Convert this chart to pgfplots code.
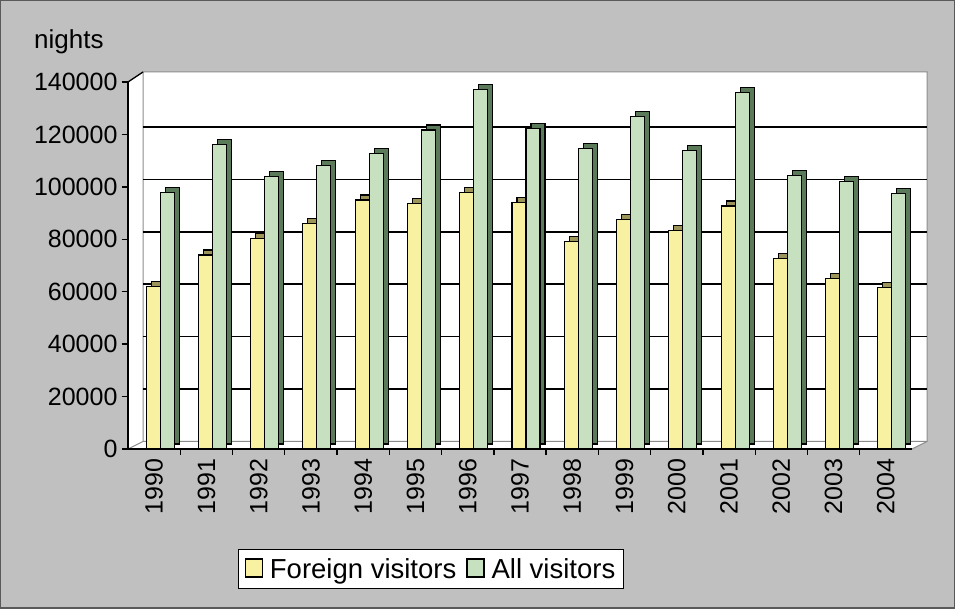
\documentclass[border=0pt]{standalone}
\usepackage{pgfplots}
\pgfplotsset{compat=1.18}
\usepackage{pgfplotstable}
\usepackage{fontspec}
\setmainfont{Liberation Sans}
\definecolor{bg}{HTML}{C0C0C0}
\definecolor{yfront}{HTML}{F9F1A2}
\definecolor{yside}{HTML}{9C9458}
\definecolor{gfront}{HTML}{C7E1C0}
\definecolor{gside}{HTML}{5B7A5A}
\pgfplotstableread{
x foreign all
0 62000 98000
1 74000 116000
2 80400 104000
3 86000 108000
4 95000 112800
5 93500 121700
6 97800 137000
7 94000 122300
8 79100 114700
9 87400 126800
10 83300 113800
11 92700 136100
12 72500 104500
13 65100 102000
14 61500 97300
}\data
\begin{document}
\begin{tikzpicture}
\useasboundingbox (-128pt,-160pt) rectangle (827pt,449pt);
\fill[bg] (-128pt,-160pt) rectangle (827pt,449pt);
\draw[black!65, line width=1.5pt] (-127.25pt,-159.25pt) rectangle (826.25pt,448.25pt);
\fill[white] (0,0) -- (0,367pt) -- (15pt,377pt) -- (799pt,377pt) -- (799pt,7.5pt) -- (784pt,0) -- cycle;
\draw[black!45, line width=1pt] (15pt,7.5pt) -- (15pt,377pt) -- (799pt,377pt) -- (799pt,7.5pt) -- (784pt,0);
\draw[black!45, line width=1pt] (0,0) -- (15pt,7.5pt) -- (799pt,7.5pt);
\draw[black, line width=1.3pt] (0,367pt) -- (15pt,377pt);
\node[anchor=base west, inner sep=0pt, font=\fontsize{26}{30}\selectfont] at (-94pt,400pt) {nights};
\begin{axis}[
  at={(0,0)}, anchor=south west,
  scale only axis, width=784pt, height=367pt,
  xmin=-0.5, xmax=14.5, ymin=0, ymax=140000,
  axis x line*=bottom, axis y line*=left,
  axis line style={black, line width=1.3pt, -},
  ybar, bar width=14pt,
  xtick={0,...,14},
  xticklabels={1990,1991,1992,1993,1994,1995,1996,1997,1998,1999,2000,2001,2002,2003,2004},
  minor xtick={0.5,1.5,...,13.5},
  every major x tick/.style={draw=none},
  every minor x tick/.style={draw=black, line width=1.3pt},
  ytick={0,20000,40000,60000,80000,100000,120000,140000},
  yticklabels={0,20000,40000,60000,80000,100000,120000,140000},
  extra y ticks={20000,40000,60000,80000,100000,120000},
  extra y tick labels={},
  extra y tick style={grid=major},
  major grid style={black, line width=1.5pt, xshift=15pt, yshift=7.5pt},
  tick align=outside,
  major tick length=6pt, minor tick length=6pt,
  every major y tick/.style={draw=black, line width=1.3pt},
  scaled y ticks=false,
  yticklabel style={font=\fontsize{25}{30}\selectfont, xshift=-1pt},
  xticklabel style={font=\fontsize{25}{30}\selectfont, rotate=90, anchor=east, yshift=0pt},
  legend style={at={(rel axis cs:0.3865,-0.327)}, anchor=center, draw=black, line width=1.3pt, fill=white,
    font=\fontsize{27.5}{30}\selectfont, legend columns=2, inner xsep=6pt, inner ysep=7pt,
    /tikz/every odd column/.append style={column sep=5pt},
    /tikz/every even column/.append style={column sep=8pt}},
  legend image code/.code={\draw[#1, draw=black, line width=1.2pt] (0pt,-8pt) rectangle (17pt,10pt);},
  clip=false,
]
\addplot[fill=yside, draw=black, line width=1.1pt, bar shift=-1pt, xshift=5pt, yshift=5pt, forget plot] table[x=x, y=foreign] {\data};
\addplot[fill=yfront, draw=black, line width=1.1pt, bar shift=-1pt] table[x=x, y=foreign] {\data};
\addplot[fill=gside, draw=black, line width=1.1pt, bar shift=13pt, xshift=5pt, yshift=5pt, forget plot] table[x=x, y=all] {\data};
\addplot[fill=gfront, draw=black, line width=1.1pt, bar shift=13pt] table[x=x, y=all] {\data};
\legend{Foreign visitors, All visitors}
\end{axis}
\end{tikzpicture}
\end{document}
